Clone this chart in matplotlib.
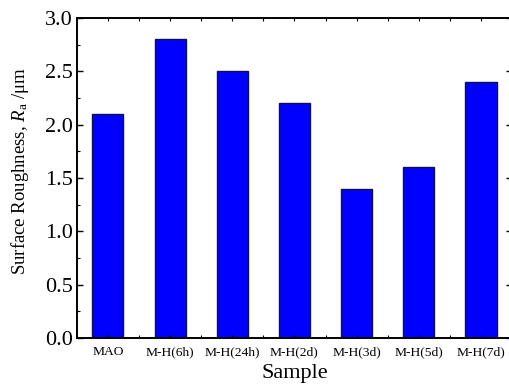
import numpy as np
import matplotlib
matplotlib.use('Agg')
import matplotlib.pyplot as plt
from matplotlib.ticker import MultipleLocator

plt.rcParams['font.family'] = ['Liberation Serif', 'DejaVu Serif']
plt.rcParams['mathtext.fontset'] = 'custom'
plt.rcParams['mathtext.rm'] = 'Liberation Serif'
plt.rcParams['mathtext.it'] = 'Liberation Serif:italic'

samples = ['MAO', 'M-H(6h)', 'M-H(24h)', 'M-H(2d)', 'M-H(3d)', 'M-H(5d)', 'M-H(7d)']
roughness = [2.1, 2.8, 2.5, 2.2, 1.4, 1.6, 2.4]

fig = plt.figure(figsize=(5.09, 3.85), dpi=100)
# axes run a little past the right edge, as in the reference
ax = fig.add_axes([0.151, 0.122, 0.855, 0.831])

x = np.arange(len(samples))
ax.bar(x, roughness, width=0.5, color='#0000ff', edgecolor='#10104a', linewidth=1.0)

ax.set_xlim(-0.5, len(samples) - 0.5)
ax.set_ylim(0, 3.0)
ax.set_xticks(x)
ax.set_xticklabels(samples, fontsize=9.7)
ax.xaxis.set_minor_locator(MultipleLocator(0.5))
ax.yaxis.set_minor_locator(MultipleLocator(0.25))
ticks = np.arange(0, 3.01, 0.5)
ax.set_yticks(ticks)
ax.set_yticklabels(['%.1f' % v for v in ticks], fontsize=16)

ax.tick_params(axis='x', which='both', direction='in', top=True, length=2.5, width=0.8, pad=6)
ax.tick_params(axis='y', which='major', direction='in', right=True, length=4, width=1.0, pad=3)
ax.tick_params(axis='y', which='minor', direction='in', right=True, length=2.5, width=0.8)

for s in ax.spines.values():
    s.set_linewidth(1.4)

ax.set_xlabel('Sample', fontsize=16, labelpad=4)
ax.set_ylabel('Surface Roughness, $R_{\\rm a}$ /μm', fontsize=13.5)
ax.yaxis.set_label_coords(-0.105, 0.52)

fig.savefig('out.png', dpi=100)
